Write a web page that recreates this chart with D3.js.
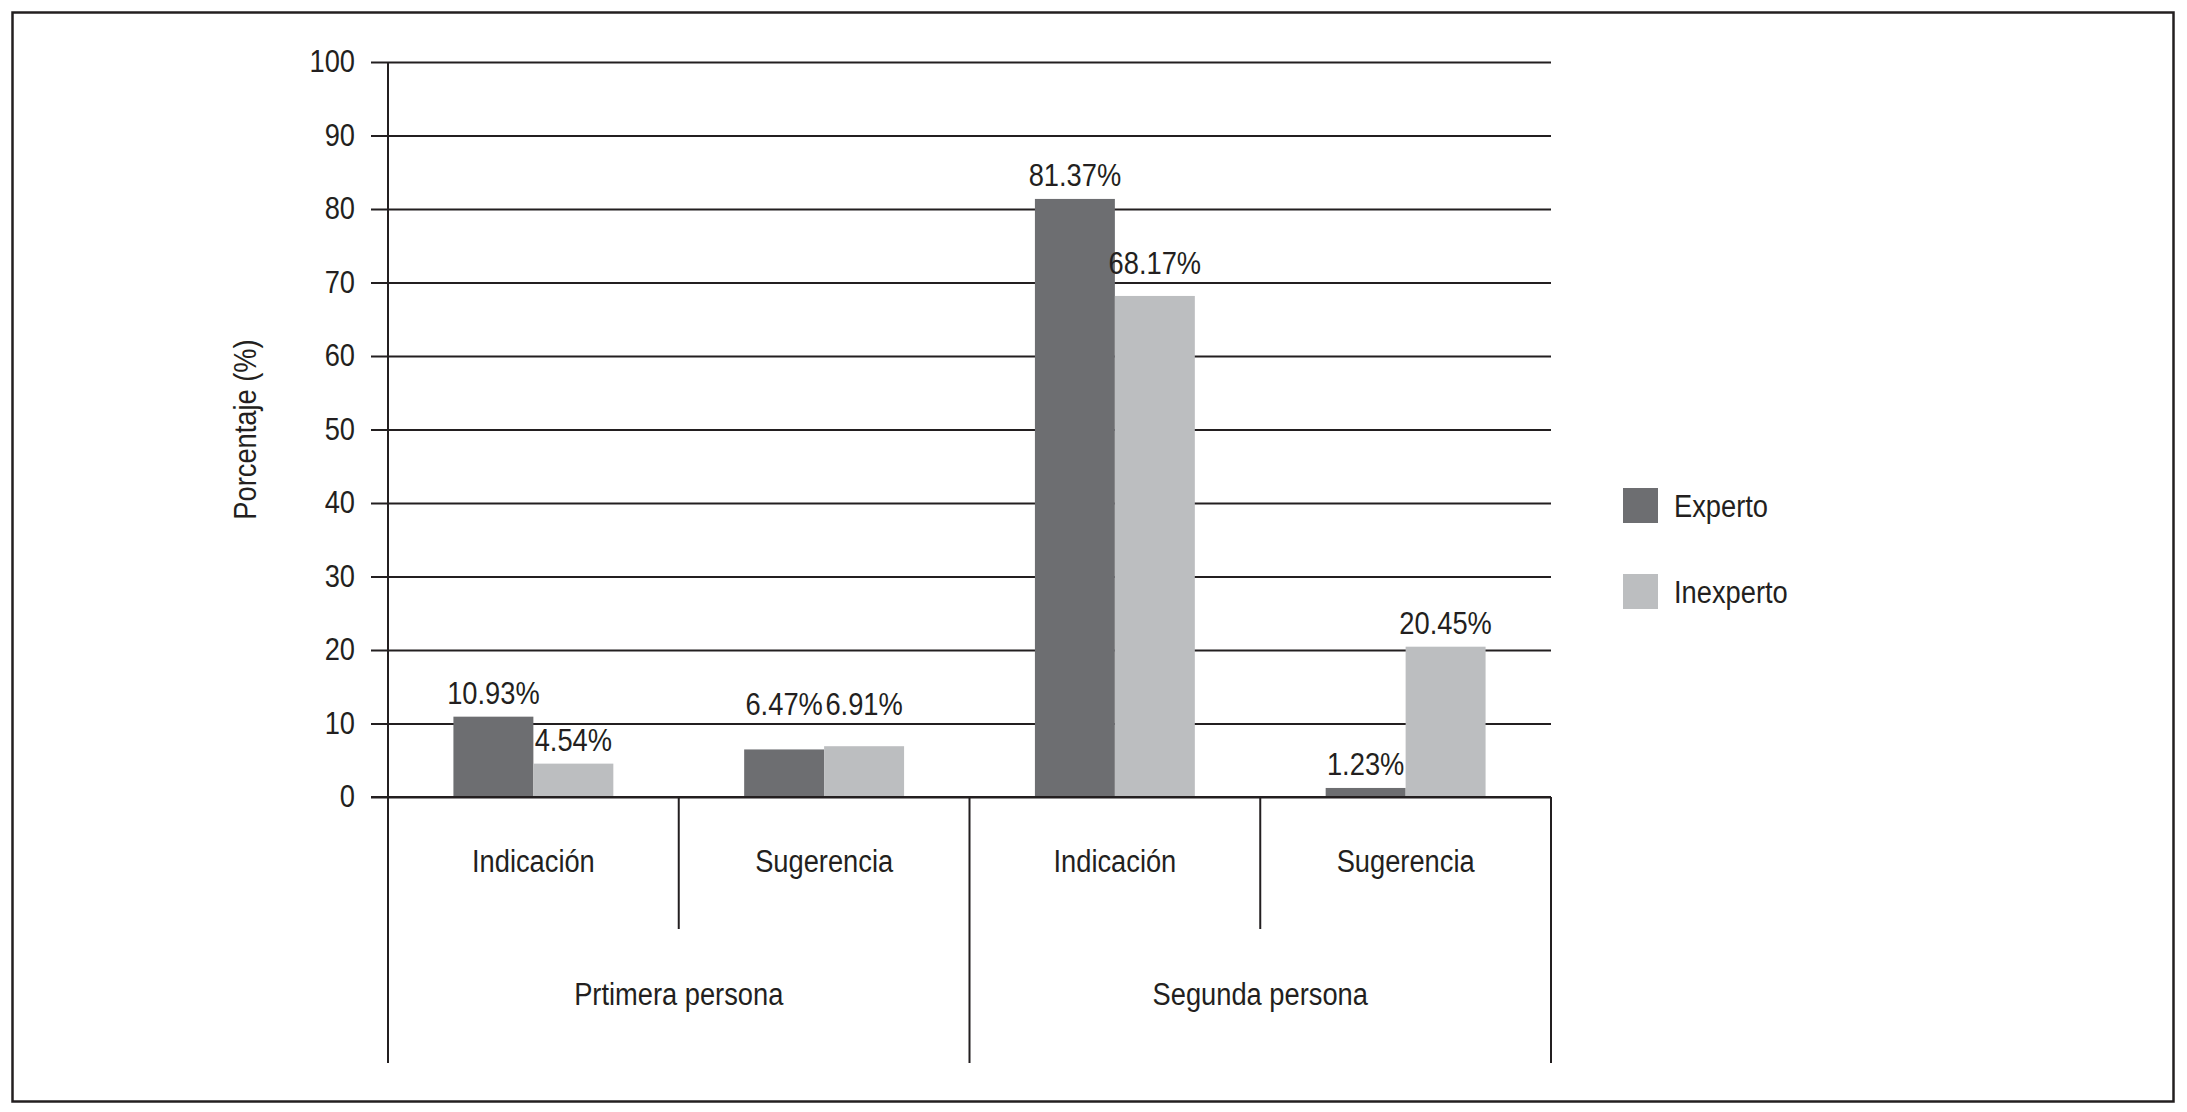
<!DOCTYPE html>
<html>
<head>
<meta charset="utf-8">
<script src="https://cdn.jsdelivr.net/npm/d3@7/dist/d3.min.js"></script>
<style>
  html, body { margin: 0; padding: 0; background: #fff; }
  svg { display: block; }
  text { font-family: "Liberation Sans", Arial, sans-serif; fill: #231f20; }
</style>
</head>
<body>
<script>
// ---- data ----
const subcategories = ["Indicación", "Sugerencia", "Indicación", "Sugerencia"];
const groups = ["Prtimera persona", "Segunda persona"];
const series = ["Experto", "Inexperto"];
const experto = [10.93, 6.47, 81.37, 1.23];
const inexperto = [4.54, 6.91, 68.17, 20.45];
const yTicks = [0, 10, 20, 30, 40, 50, 60, 70, 80, 90, 100];
const yTitle = "Porcentaje (%)";

// ---- layout ----
const W = 2187, H = 1112;
const ink = "#231f20";
const colors = { "Experto": "#6d6e71", "Inexperto": "#bcbec0" };
const plot = { left: 388, right: 1551, top: 62, bottom: 797 };
const fs = 31;
const condense = 0.88;

const svg = d3.select("body").append("svg").attr("width", W).attr("height", H);

// frame
svg.append("rect").attr("x", 12.5).attr("y", 12.5).attr("width", 2161).attr("height", 1089)
  .attr("fill", "none").attr("stroke", ink).attr("stroke-width", 2.5);

const y = d3.scaleLinear().domain([0, 100]).range([plot.bottom, plot.top]);
const x0 = d3.scaleBand().domain(d3.range(subcategories.length)).range([plot.left, plot.right]).padding(0);
const bw = x0.bandwidth();
const barW = bw * 0.275;
const x1 = d3.scaleBand().domain(series).range([bw / 2 - barW, bw / 2 + barW]).padding(0);

// gridlines + ticks + labels
const yAxis = d3.axisLeft(y).tickValues(yTicks).tickSize(-(plot.right - 371)).tickPadding(16).tickFormat(d3.format("d"));
const gy = svg.append("g").attr("transform", "translate(371,0)").call(yAxis);
gy.select(".domain").remove();
gy.selectAll(".tick line").attr("stroke", ink).attr("stroke-width", 2);
gy.selectAll(".tick text").attr("font-size", fs).attr("fill", ink).attr("font-family", null);

// y title
svg.append("text")
  .attr("transform", `translate(256,${(plot.top + plot.bottom) / 2}) rotate(-90)`)
  .attr("text-anchor", "middle").attr("font-size", fs).text(yTitle);

// bars
const rows = subcategories.map((s, i) => ({ i, values: [
  { key: "Experto", v: experto[i] }, { key: "Inexperto", v: inexperto[i] }] }));

const gBars = svg.append("g");
rows.forEach(r => {
  const g = gBars.append("g").attr("transform", `translate(${x0(r.i)},0)`);
  g.selectAll("rect").data(r.values).join("rect")
    .attr("x", d => x1(d.key)).attr("width", x1.bandwidth())
    .attr("y", d => y(d.v)).attr("height", d => y(0) - y(d.v))
    .attr("fill", d => colors[d.key]);
  g.selectAll("text").data(r.values).join("text")
    .attr("x", d => x1(d.key) + x1.bandwidth() / 2)
    .attr("y", d => {
      let c = y(d.v) - 24;
      const gridY = yTicks.map(t => y(t));
      const hit = gridY.find(gyv => Math.abs(gyv - c) < 14);
      if (hit !== undefined) c = hit - 20;
      return c + fs * 0.36;
    })
    .attr("text-anchor", "middle").attr("font-size", fs)
    .text(d => d.v.toFixed(2) + "%");
});

// baseline (0) redraw on top
svg.append("line").attr("x1", 371).attr("x2", plot.right).attr("y1", y(0)).attr("y2", y(0))
  .attr("stroke", ink).attr("stroke-width", 2);

// y axis line extended down to category block
svg.append("line").attr("x1", plot.left).attr("x2", plot.left).attr("y1", plot.top).attr("y2", 1063)
  .attr("stroke", ink).attr("stroke-width", 2);

// category dividers
d3.range(1, subcategories.length + 1).forEach(i => {
  const xv = i === subcategories.length ? plot.right : x0(i);
  const long = (i % 2 === 0);
  svg.append("line").attr("x1", xv).attr("x2", xv).attr("y1", y(0)).attr("y2", long ? 1063 : 929)
    .attr("stroke", ink).attr("stroke-width", 2);
});

// sub labels
svg.append("g").selectAll("text").data(subcategories).join("text")
  .attr("x", (d, i) => x0(i) + bw / 2).attr("y", 872)
  .attr("text-anchor", "middle").attr("font-size", fs).text(d => d);

// group labels
svg.append("g").selectAll("text").data(groups).join("text")
  .attr("x", (d, i) => x0(i * 2) + bw).attr("y", 1005)
  .attr("text-anchor", "middle").attr("font-size", fs).text(d => d);

// legend
const leg = svg.append("g").selectAll("g").data(series).join("g")
  .attr("transform", (d, i) => `translate(1623,${488 + i * 86})`);
leg.append("rect").attr("width", 35).attr("height", 35).attr("fill", d => colors[d]);
leg.append("text").attr("x", 51).attr("y", 17.5 + fs * 0.36).attr("font-size", fs).text(d => d);

// condensed look: squeeze all glyphs horizontally
svg.selectAll("text").each(function () {
  const L = this.getComputedTextLength();
  this.setAttribute("textLength", (L * condense).toFixed(1));
  this.setAttribute("lengthAdjust", "spacingAndGlyphs");
});
</script>
</body>
</html>
